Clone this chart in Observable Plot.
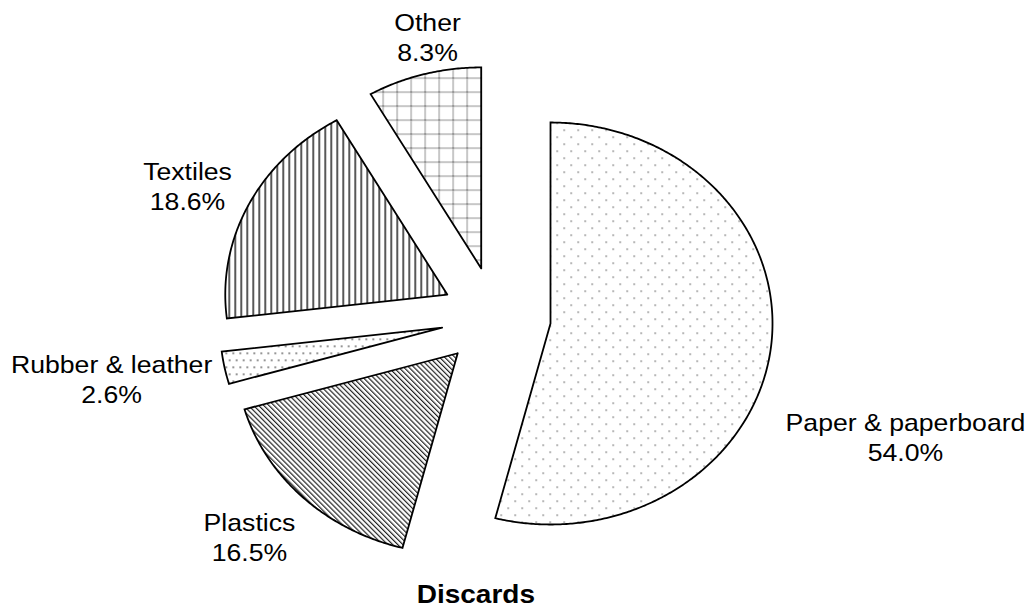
<!DOCTYPE html>
<html><head><meta charset="utf-8">
<script src="https://cdn.jsdelivr.net/npm/d3@7"></script>
<script src="https://cdn.jsdelivr.net/npm/@observablehq/plot@0.6"></script>
<style>
body{margin:0;background:#fff;font-family:"Liberation Sans",Arial,sans-serif;}
#caption{width:952px;text-align:center;font-weight:bold;font-size:25px;line-height:38px;color:#000;font-family:"Liberation Sans",Arial,sans-serif;}
#caption span{display:inline-block;transform:scaleX(1.12);}
</style></head><body>
<div id="chart"></div><div id="caption"><span>Discards</span></div>
<script>
// ---- data ----
const categories = ["Paper & paperboard", "Plastics", "Rubber & leather", "Textiles", "Other"];
const shares = [54.0, 16.5, 2.6, 18.6, 8.3];
const shareLabels = ["54.0%", "16.5%", "2.6%", "18.6%", "8.3%"];

// ---- layout (radius units) ----
const explode = [[0, 0], [-0.418, -0.148], [-0.488, -0.021], [-0.465, 0.144], [-0.312, 0.274]];
const labelAt = [[1.599, -0.562], [-1.356, -1.060], [-1.977, -0.274], [-1.635, 0.687], [-0.554, 1.428]];
const W = 1031, H = 575, CX = 550, CY = 323, RX = 222, RY = 201;

// build slice outlines
const total = d3.sum(shares);
let acc = 0;
const rows = [];
categories.forEach((c, i) => {
  const a0 = acc / total * 2 * Math.PI;
  acc += shares[i];
  const a1 = acc / total * 2 * Math.PI;
  const [ox, oy] = explode[i];
  rows.push({slice: c, x: ox, y: oy});
  const n = Math.max(4, Math.ceil((a1 - a0) / (Math.PI / 360)));
  for (let k = 0; k <= n; k++) {
    const a = a0 + (a1 - a0) * k / n;
    rows.push({slice: c, x: ox + Math.sin(a), y: oy + Math.cos(a)});
  }
  rows.push({slice: c, x: ox, y: oy});
});
const labels = categories.map((c, i) => ({x: labelAt[i][0], y: labelAt[i][1], text: c + "\n" + shareLabels[i]}));

const plot = Plot.plot({
  width: W, height: H, margin: 0,
  x: {domain: [-CX / RX, (W - CX) / RX], range: [0, W], axis: null},
  y: {domain: [CY / RY, (CY - H) / RY], range: [0, H], axis: null},
  marks: [
    ...categories.map((c, i) => Plot.line(rows.filter(r => r.slice === c), {
      x: "x", y: "y", fill: `url(#pat${i})`, stroke: "black", strokeWidth: 1.8,
      strokeLinejoin: "miter", strokeMiterlimit: 10, curve: "linear"
    })),
    Plot.text(labels, {x: "x", y: "y", text: "text", fontSize: 24, lineHeight: 1.25,
      fill: "black", fontFamily: "Liberation Sans, Arial, sans-serif"})
  ]
});

// patterns
const svg = d3.select(plot);
const defs = svg.insert("defs", ":first-child");
// 0 paper: sparse staggered dots
let p = defs.append("pattern").attr("id", "pat0").attr("patternUnits", "userSpaceOnUse").attr("width", 14).attr("height", 14);
p.append("rect").attr("width", 14).attr("height", 14).attr("fill", "white");
p.append("rect").attr("x", 3).attr("y", 3).attr("width", 1.3).attr("height", 1.3).attr("fill", "#555");
p.append("rect").attr("x", 10).attr("y", 10).attr("width", 1.3).attr("height", 1.3).attr("fill", "#555");
// 1 plastics: dense diagonal "\"
p = defs.append("pattern").attr("id", "pat1").attr("patternUnits", "userSpaceOnUse").attr("width", 3.6).attr("height", 10).attr("patternTransform", "rotate(-45)");
p.append("rect").attr("width", 3.6).attr("height", 10).attr("fill", "white");
p.append("rect").attr("x", 0).attr("y", 0).attr("width", 1.2).attr("height", 10).attr("fill", "#222");
// 2 rubber: denser dots
p = defs.append("pattern").attr("id", "pat2").attr("patternUnits", "userSpaceOnUse").attr("width", 14).attr("height", 14);
p.append("rect").attr("width", 14).attr("height", 14).attr("fill", "white");
[[1, 2], [8, 2], [4.5, 9], [11.5, 9]].forEach(([x, y]) => p.append("rect").attr("x", x).attr("y", y).attr("width", 1.5).attr("height", 1.5).attr("fill", "#444"));
// 3 textiles: vertical lines
p = defs.append("pattern").attr("id", "pat3").attr("patternUnits", "userSpaceOnUse").attr("width", 6).attr("height", 6);
p.append("rect").attr("width", 6).attr("height", 6).attr("fill", "white");
p.append("rect").attr("x", 0).attr("y", 0).attr("width", 1.4).attr("height", 6).attr("fill", "#111");
// 4 other: dotted grid
p = defs.append("pattern").attr("id", "pat4").attr("patternUnits", "userSpaceOnUse").attr("width", 14).attr("height", 14);
p.append("rect").attr("width", 14).attr("height", 14).attr("fill", "white");
for (let k = 0; k < 14; k += 2) {
  p.append("rect").attr("x", 4).attr("y", k).attr("width", 1.2).attr("height", 1).attr("fill", "#444");
  p.append("rect").attr("x", k).attr("y", 7).attr("width", 1).attr("height", 1.2).attr("fill", "#444");
}

// horizontal stretch of labels to match the reference's wide lettering
svg.selectAll("g[aria-label=text] text").each(function () {
  const t = this.getAttribute("transform") || "";
  this.setAttribute("transform", t + " scale(1.11,1)");
});

document.getElementById("chart").append(plot);
</script></body></html>
